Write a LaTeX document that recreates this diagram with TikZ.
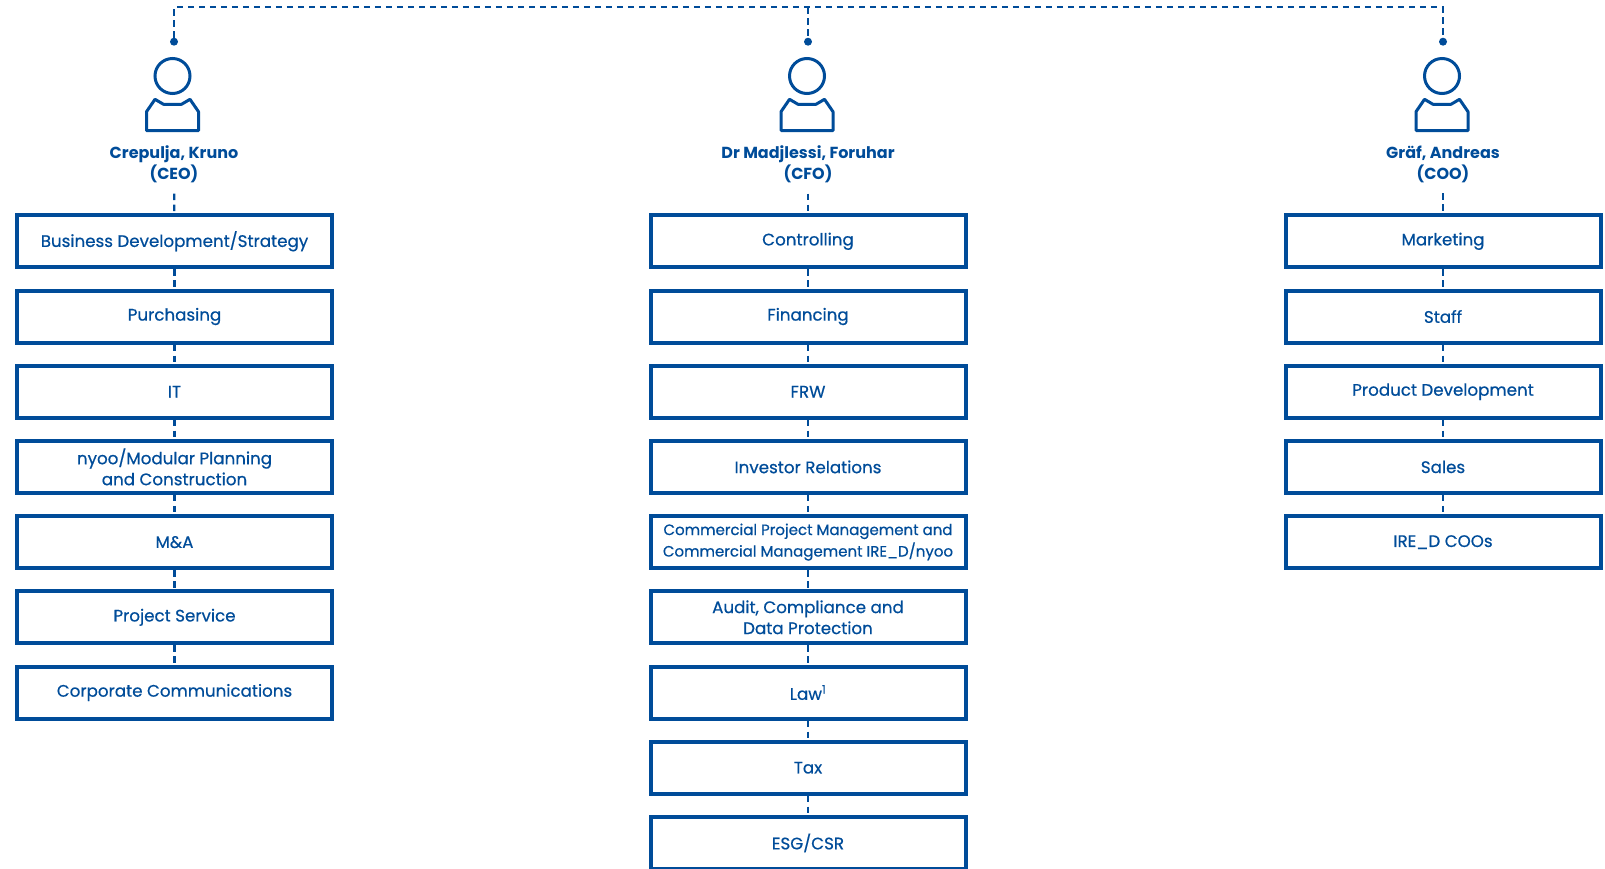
\documentclass[tikz,border=0pt]{standalone}
\usepackage{fontspec}
\setmainfont{Poppins}
\newfontfamily\unitfont{Poppins}[FakeBold=0.6]
\usetikzlibrary{positioning}
\definecolor{orgblue}{RGB}{0,76,153}

\tikzset{
  unit/.style={draw=orgblue, line width=4pt, minimum width=315pt, minimum height=52pt,
    inner sep=0pt, align=center, text=orgblue, font=\unitfont\fontsize{16.7}{21}\selectfont},
  small unit/.style={unit, font=\unitfont\fontsize{15}{21.5}\selectfont},
  board/.style={text=orgblue, align=center, inner sep=0pt, text depth=10pt,
    font=\bfseries\fontsize{16}{20.5}\selectfont},
  link/.style={orgblue, line width=2.3pt, dash pattern=on 6.5pt off 4.5pt},
  dot/.style={circle, fill=orgblue, inner sep=0pt, minimum size=8pt},
  person/.pic={
    \draw[orgblue, line width=3pt] (0,0) circle (17.5);
    \draw[orgblue, line width=3pt, line join=round]
      (-26,-54.5) -- (-26,-35.7) -- (-17.5,-23.3) -- (-9,-28.3) -- (9,-28.3)
      -- (17.5,-23.3) -- (26,-35.7) -- (26,-54.5) -- cycle;
  }
}

\begin{document}
\begin{tikzpicture}[x=1pt, y=1pt, node distance=19.2pt]
  \useasboundingbox (0,0) rectangle (1605,-868);

  % Top line joining the three board members
  \node[dot] (dotL) at (174,-41.7) {};
  \node[dot] (dotM) at (808,-41.7) {};
  \node[dot] (dotR) at (1443,-41.7) {};
  \coordinate (topL) at (174,-7.3);
  \coordinate (topM) at (808,-7.3);
  \coordinate (topR) at (1443,-7.3);
  \draw[link] (dotL) -- (topL) -- (topR) -- (dotR);
  \draw[link] (topM) -- (dotM);

  % Persons
  \pic at (172.5,-76) {person};
  \pic at (807,-76) {person};
  \pic at (1442,-76) {person};
  \node[board] (ceo) at (174,-167.7) {Crepulja, Kruno\\(CEO)};
  \node[board] (cfo) at (808,-167.7) {Dr Madjlessi, Foruhar\\(CFO)};
  \node[board] (coo) at (1443,-167.7) {Gräf, Andreas\\(COO)};

  % CEO units
  \node[unit] (bd) at (174.5,-241.3) {Business Development/Strategy};
  \node[unit, below=of bd] (purch) {Purchasing};
  \node[unit, below=of purch] (it) {IT};
  \node[unit, below=of it] (nyoo) {nyoo/Modular Planning\\and Construction};
  \node[unit, below=of nyoo] (ma) {M\&A};
  \node[unit, below=of ma] (projserv) {Project Service};
  \node[unit, below=of projserv] (corpcom) {Corporate Communications};

  % CFO units
  \node[unit] (ctrl) at (808,-241.3) {Controlling};
  \node[unit, below=of ctrl] (fin) {Financing};
  \node[unit, below=of fin] (frw) {FRW};
  \node[unit, below=of frw] (ir) {Investor Relations};
  \node[small unit, below=of ir] (cpm) {Commercial Project Management and\\Commercial Management IRE\_D/nyoo};
  \node[unit, below=of cpm] (audit) {Audit, Compliance and\\Data Protection};
  \node[unit, below=of audit] (law) {Law\textsuperscript{1}};
  \node[unit, below=of law] (tax) {Tax};
  \node[unit, below=of tax] (esg) {ESG/CSR};

  % COO units
  \node[unit] (mkt) at (1443,-241.3) {Marketing};
  \node[unit, below=of mkt] (staff) {Staff};
  \node[unit, below=of staff] (proddev) {Product Development};
  \node[unit, below=of proddev] (sales) {Sales};
  \node[unit, below=of sales] (ired) {IRE\_D COOs};

  % Dashed links
  \draw[link, shorten <=4pt] (ceo) -- (bd);
  \draw[link, shorten <=4pt] (cfo) -- (ctrl);
  \draw[link, shorten <=4pt] (coo) -- (mkt);
  \draw[link] (bd) -- (purch) (purch) -- (it) (it) -- (nyoo)
    (nyoo) -- (ma) (ma) -- (projserv) (projserv) -- (corpcom);
  \draw[link] (ctrl) -- (fin) (fin) -- (frw) (frw) -- (ir)
    (ir) -- (cpm) (cpm) -- (audit) (audit) -- (law) (law) -- (tax) (tax) -- (esg);
  \draw[link] (mkt) -- (staff) (staff) -- (proddev)
    (proddev) -- (sales) (sales) -- (ired);
\end{tikzpicture}
\end{document}
